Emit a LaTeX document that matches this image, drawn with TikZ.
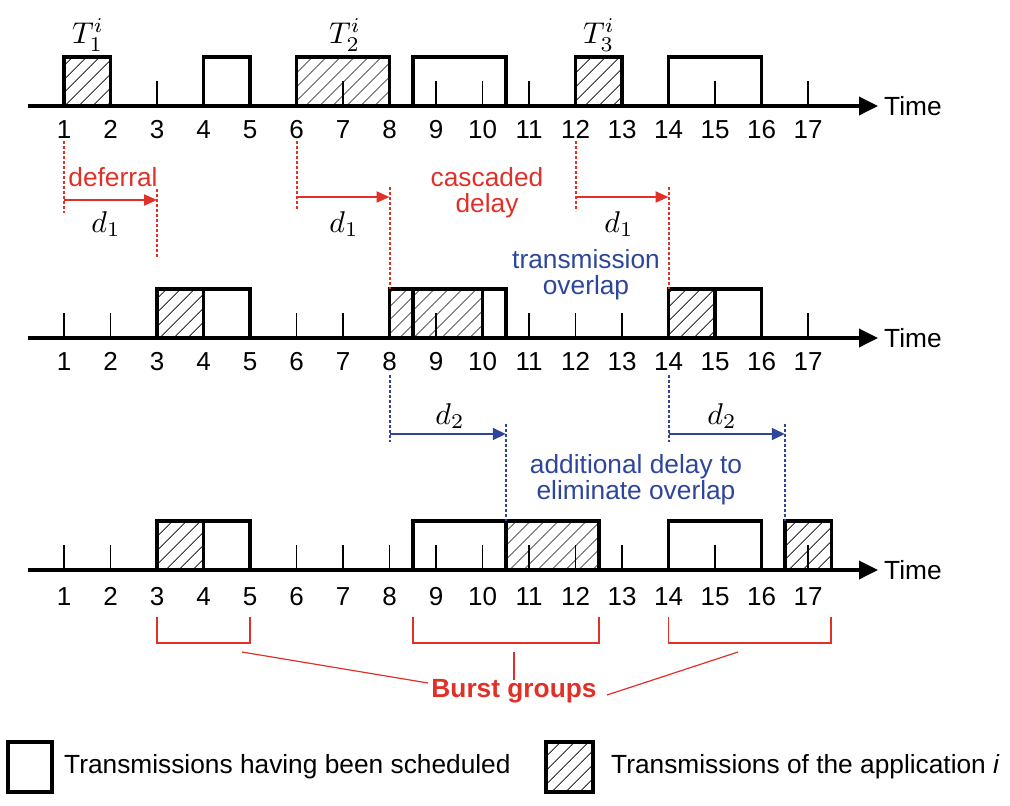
\documentclass[tikz,border=0pt]{standalone}
\usepackage[no-math]{fontspec}
\setmainfont{Liberation Sans}
\usetikzlibrary{arrows.meta,patterns.meta}
\definecolor{cred}{RGB}{224,48,40}
\definecolor{cblue}{RGB}{45,70,155}
\definecolor{hatchc}{RGB}{70,70,70}
\newcommand{\PX}[1]{64+(#1-1)*46.5}
\tikzset{
 axisline/.style={line width=3.5pt,-{Triangle[length=19pt,width=18pt]}},
 tickmark/.style={line width=1.6pt},
 tbox/.style={line width=3.5pt},
 hatchfill/.style={pattern={Lines[angle=45,distance=10.5pt,line width=1pt]},pattern color=hatchc},
 numlbl/.style={font=\fontsize{26}{27}\selectfont,inner sep=0pt,anchor=base},
 txt/.style={font=\fontsize{26.3}{26}\selectfont,inner sep=0pt,align=center},
 mathlbl/.style={inner sep=0pt,font=\fontsize{10}{12}\selectfont,scale=3.0},
 rdot/.style={cred,line width=2pt,dash pattern=on 3pt off 2pt},
 bdot/.style={cblue,line width=2pt,dash pattern=on 3pt off 2pt},
 rarr/.style={cred,line width=2pt,-{Triangle[length=13pt,width=11pt]}},
 barr/.style={cblue,line width=2pt,-{Triangle[length=13pt,width=12pt]}},
 bracket/.style={cred,line width=1.8pt},
 leader/.style={cred,line width=1.2pt},
}
\newcommand{\hatchrect}[3]{\fill[hatchfill] ({\PX{#1}},{#3-49}) rectangle ({\PX{#2}},#3);}
\newcommand{\plainrect}[3]{\draw[tbox] ({\PX{#1}},{#3-49}) rectangle ({\PX{#2}},#3);}
\newcommand{\axisbase}[3]{%
 \draw[axisline] (28,#2) -- (878,#2);
 \node[txt,anchor=west] (#1time) at (884,#2) {Time};
}
\newcommand{\axisticks}[3]{%
 \foreach \n in {1,...,17}{%
  \draw[tickmark] ({\PX{\n}},#2) -- ++(0,-25);
  \node[numlbl] (#1n\n) at ({\PX{\n}},{#2+#3}) {\n};
 }%
}
\begin{document}
\begin{tikzpicture}[x=1pt,y=-1pt]
\useasboundingbox (0,0) rectangle (1010,806);

% ---------- axis 1
\axisbase{a}{106}{32}
\hatchrect{1}{2}{106}
\hatchrect{6}{8}{106}
\hatchrect{12}{13}{106}
\axisticks{a}{106}{32}
\plainrect{1}{2}{106}
\plainrect{4}{5}{106}
\plainrect{6}{8}{106}
\plainrect{8.5}{10.5}{106}
\plainrect{12}{13}{106}
\plainrect{14}{16}{106}
\node[mathlbl] (t1) at (88,35) {$T_1^i$};
\node[mathlbl] (t2) at (345,35) {$T_2^i$};
\node[mathlbl] (t3) at (599,35) {$T_3^i$};

% ---------- axis 2
\axisbase{b}{338}{32}
\hatchrect{3}{4}{338}
\hatchrect{8}{10}{338}
\hatchrect{14}{15}{338}
\axisticks{b}{338}{32}
\plainrect{3}{5}{338}
\draw[tbox] ({\PX{4}},289) -- ({\PX{4}},338);
\plainrect{8}{10.5}{338}
\draw[tbox] ({\PX{8.5}},289) -- ({\PX{8.5}},338);
\draw[tbox] ({\PX{10}},289) -- ({\PX{10}},338);
\plainrect{14}{16}{338}
\draw[tbox] ({\PX{15}},289) -- ({\PX{15}},338);

% ---------- axis 3
\axisbase{c}{570}{35}
\hatchrect{3}{4}{570}
\hatchrect{10.5}{12.5}{570}
\hatchrect{16.5}{17.5}{570}
\axisticks{c}{570}{35}
\plainrect{3}{5}{570}
\draw[tbox] ({\PX{4}},521) -- ({\PX{4}},570);
\plainrect{8.5}{10.5}{570}
\plainrect{10.5}{12.5}{570}
\plainrect{14}{16}{570}
\plainrect{16.5}{17.5}{570}

% ---------- red annotations (d1)
\coordinate (r1s) at ({\PX{1}},141); \coordinate (r1e) at ({\PX{1}},213);
\coordinate (r2s) at ({\PX{3}},189); \coordinate (r2e) at ({\PX{3}},257);
\draw[rdot] (r1s) -- (r1e);
\draw[rdot] (r2s) -- (r2e);
\coordinate (ra1) at ({\PX{1}},200); \coordinate (rb1) at ({\PX{3}},200);
\draw[rarr] (ra1) -- (rb1);
\node[txt,text=cred] (defer) at (113,177) {deferral};
\node[mathlbl] (d1a) at (106,224) {$d_1$};

\coordinate (r3s) at ({\PX{6}},141); \coordinate (r3e) at ({\PX{6}},211);
\coordinate (r4s) at ({\PX{8}},187); \coordinate (r4e) at ({\PX{8}},289);
\draw[rdot] (r3s) -- (r3e);
\draw[rdot] (r4s) -- (r4e);
\coordinate (ra2) at ({\PX{6}},197); \coordinate (rb2) at ({\PX{8}},197);
\draw[rarr] (ra2) -- (rb2);
\node[mathlbl] (d1b) at (344,224) {$d_1$};
\node[txt,text=cred] (casc) at (487,193) {cascaded\\delay};

\coordinate (r5s) at ({\PX{12}},141); \coordinate (r5e) at ({\PX{12}},211);
\coordinate (r6s) at ({\PX{14}},187); \coordinate (r6e) at ({\PX{14}},289);
\draw[rdot] (r5s) -- (r5e);
\draw[rdot] (r6s) -- (r6e);
\coordinate (ra3) at ({\PX{12}},197); \coordinate (rb3) at ({\PX{14}},197);
\draw[rarr] (ra3) -- (rb3);
\node[mathlbl] (d1c) at (619,224) {$d_1$};
\node[txt,text=cblue] (overlap) at (586,275) {transmission\\overlap};

% ---------- blue annotations (d2)
\coordinate (b1s) at ({\PX{8}},375); \coordinate (b1e) at ({\PX{8}},442);
\coordinate (b2s) at ({\PX{10.5}},424); \coordinate (b2e) at ({\PX{10.5}},521);
\draw[bdot] (b1s) -- (b1e);
\draw[bdot] (b2s) -- (b2e);
\coordinate (ba1) at ({\PX{8}},434); \coordinate (bb1) at ({\PX{10.5}},434);
\draw[barr] (ba1) -- (bb1);
\node[mathlbl] (d2a) at (450,416) {$d_2$};

\coordinate (b3s) at ({\PX{14}},375); \coordinate (b3e) at ({\PX{14}},442);
\coordinate (b4s) at ({\PX{16.5}},424); \coordinate (b4e) at ({\PX{16.5}},521);
\draw[bdot] (b3s) -- (b3e);
\draw[bdot] (b4s) -- (b4e);
\coordinate (ba2) at ({\PX{14}},434); \coordinate (bb2) at ({\PX{16.5}},434);
\draw[barr] (ba2) -- (bb2);
\node[mathlbl] (d2b) at (722,416) {$d_2$};
\node[txt,text=cblue] (addl) at (636,480) {additional delay to\\eliminate overlap};

% ---------- burst groups
\draw[bracket] ({\PX{3}},617) -- ({\PX{3}},643) -- ({\PX{5}},643) -- ({\PX{5}},617);
\draw[bracket] ({\PX{8.5}},617) -- ({\PX{8.5}},643) -- ({\PX{12.5}},643) -- ({\PX{12.5}},617);
\draw[bracket] ({\PX{14}},617) -- ({\PX{14}},643) -- ({\PX{17.5}},643) -- ({\PX{17.5}},617);
\node[txt,text=cred,font=\fontsize{26.3}{26}\selectfont\bfseries] (burst) at (514,691) {Burst groups};
\coordinate (g1) at (242,652); \coordinate (h1) at (428,683);
\coordinate (g2) at (514,652); \coordinate (h2) at (514,680);
\coordinate (g3) at (738,652); \coordinate (h3) at (607,695);
\draw[leader] (g1) -- (h1);
\draw[leader] (g2) -- (h2);
\draw[leader] (g3) -- (h3);

% ---------- legend
\draw[tbox] (8,742) rectangle (52,792);
\node[txt,anchor=west] (leg1) at (64,767) {Transmissions having been scheduled};
\fill[hatchfill] (546,742) rectangle (593,792);
\draw[tbox] (546,742) rectangle (593,792);
\node[txt,anchor=west] (leg2) at (611,767) {Transmissions of the application \textit{i}};
\end{tikzpicture}
\end{document}
